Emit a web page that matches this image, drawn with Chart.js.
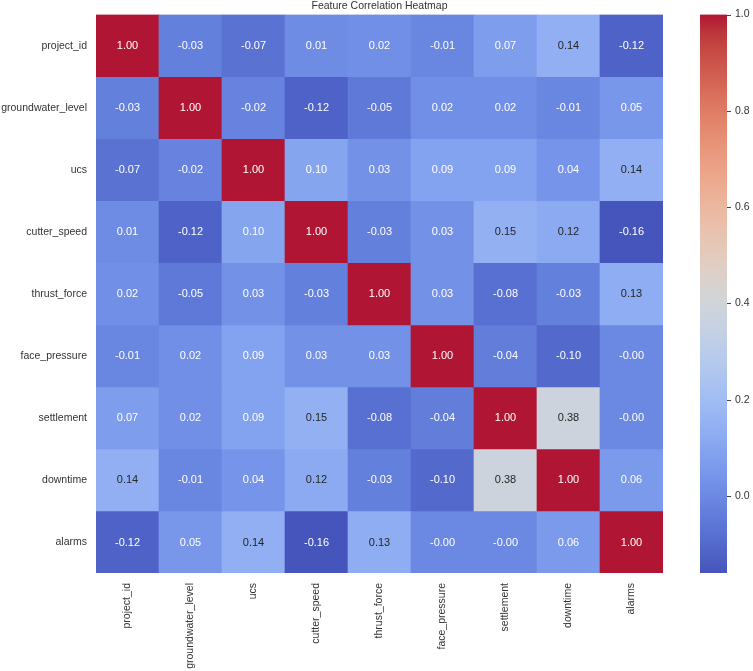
<!DOCTYPE html>
<html>
<head>
<meta charset="utf-8">
<title>Feature Correlation Heatmap</title>
<script src="https://cdn.jsdelivr.net/npm/chart.js@4"></script>
<style>
  html, body { margin: 0; padding: 0; background: #fff; }
  #wrap { width: 753px; height: 671px; position: relative; }
</style>
</head>
<body>
<div id="wrap"><canvas id="heatmap"></canvas></div>
<script>
// feature names (rows top->bottom, columns left->right)
var features = ['project_id', 'groundwater_level', 'ucs', 'cutter_speed', 'thrust_force',
                'face_pressure', 'settlement', 'downtime', 'alarms'];

// correlation matrix, one row per feature
var corrProjectId   = [1.00, -0.03, -0.07, 0.01, 0.02, -0.01, 0.07, 0.14, -0.12];
var corrGroundwater = [-0.03, 1.00, -0.02, -0.12, -0.05, 0.02, 0.02, -0.01, 0.05];
var corrUcs         = [-0.07, -0.02, 1.00, 0.10, 0.03, 0.09, 0.09, 0.04, 0.14];
var corrCutter      = [0.01, -0.12, 0.10, 1.00, -0.03, 0.03, 0.15, 0.12, -0.16];
var corrThrust      = [0.02, -0.05, 0.03, -0.03, 1.00, 0.03, -0.08, -0.03, 0.13];
var corrFace        = [-0.01, 0.02, 0.09, 0.03, 0.03, 1.00, -0.04, -0.10, -0.004];
var corrSettlement  = [0.07, 0.02, 0.09, 0.15, -0.08, -0.04, 1.00, 0.38, -0.004];
var corrDowntime    = [0.14, -0.01, 0.04, 0.12, -0.03, -0.10, 0.38, 1.00, 0.06];
var corrAlarms      = [-0.12, 0.05, 0.14, -0.16, 0.13, -0.004, -0.004, 0.06, 1.00];

var matrix = [corrProjectId, corrGroundwater, corrUcs, corrCutter, corrThrust,
              corrFace, corrSettlement, corrDowntime, corrAlarms];

// colour scale limits and colorbar ticks
var vmin = -0.16;
var vmax = 1.0;
var colorbarTicks = [0.0, 0.2, 0.4, 0.6, 0.8, 1.0];

// coolwarm (Moreland) control points
var coolwarm = [
  [59,76,192],[68,90,204],[77,104,215],[87,117,225],[98,130,234],[108,142,241],
  [119,154,247],[130,165,251],[141,176,254],[152,185,255],[163,194,255],[174,201,253],
  [184,208,249],[194,213,244],[204,217,238],[213,219,230],[221,221,221],[229,216,209],
  [236,211,197],[241,204,185],[245,196,173],[247,187,160],[247,177,148],[247,166,135],
  [244,154,123],[241,141,111],[236,127,99],[229,112,88],[222,96,77],[213,80,66],
  [203,62,56],[192,40,47],[180,4,38]
];

function cmapRGB(v) {
  var t = (v - vmin) / (vmax - vmin);
  t = Math.max(0, Math.min(1, t));
  var pos = t * (coolwarm.length - 1);
  var i = Math.min(Math.floor(pos), coolwarm.length - 2);
  var f = pos - i;
  var a = coolwarm[i], b = coolwarm[i + 1];
  return [0, 1, 2].map(function(k) { return a[k] + (b[k] - a[k]) * f; });
}
// the source picture is a bit washed out, so mute the colours slightly
function cmap(v) {
  var c = cmapRGB(v).map(function(x) { return Math.round(x * 0.88 + 150 * 0.12); });
  return 'rgb(' + c[0] + ',' + c[1] + ',' + c[2] + ')';
}
// seaborn-like text colour choice from luminance
function textColor(v) {
  var c = cmapRGB(v).map(function(x) {
    x = x / 255;
    return x <= 0.03928 ? x / 12.92 : Math.pow((x + 0.055) / 1.055, 2.4);
  });
  var lum = 0.2126 * c[0] + 0.7152 * c[1] + 0.0722 * c[2];
  return lum > 0.408 ? '#262626' : '#ffffff';
}

var FONT = "'Liberation Sans', Arial, sans-serif";
var LABEL_COLOR = '#333333';

var datasets = matrix.map(function(row, r) {
  return {
    label: features[r],
    data: row.map(function() { return 1; }),
    values: row,
    backgroundColor: row.map(cmap),
    borderWidth: 0,
    barPercentage: 1.0,
    categoryPercentage: 1.0
  };
});

var annotatePlugin = {
  id: 'annotate',
  afterDatasetsDraw: function(chart) {
    var ctx = chart.ctx;
    ctx.save();
    ctx.font = '11px ' + FONT;
    ctx.textAlign = 'center';
    ctx.textBaseline = 'middle';
    chart.data.datasets.forEach(function(ds, di) {
      var meta = chart.getDatasetMeta(di);
      meta.data.forEach(function(el, i) {
        var v = ds.values[i];
        ctx.fillStyle = textColor(v);
        ctx.fillText(v.toFixed(2), el.x, (el.y + el.base) / 2 + 0.5);
      });
    });
    ctx.restore();
  }
};

var colorbarPlugin = {
  id: 'colorbar',
  afterDraw: function(chart) {
    var s = chart.scales.cb;
    var ctx = chart.ctx;
    var x0 = s.left + 37, w = 27;
    var yTop = s.getPixelForValue(vmax), yBot = s.getPixelForValue(vmin);
    var grad = ctx.createLinearGradient(0, yBot, 0, yTop);
    for (var k = 0; k <= 64; k++) {
      var v = vmin + (vmax - vmin) * k / 64;
      grad.addColorStop(k / 64, cmap(v));
    }
    ctx.save();
    ctx.fillStyle = grad;
    ctx.fillRect(x0, yTop, w, yBot - yTop);
    ctx.strokeStyle = '#444';
    ctx.lineWidth = 1;
    colorbarTicks.forEach(function(t) {
      var y = Math.round(s.getPixelForValue(t)) + 0.5;
      ctx.beginPath();
      ctx.moveTo(x0 + w, y);
      ctx.lineTo(x0 + w + 4, y);
      ctx.stroke();
    });
    ctx.restore();
  }
};

var heatmapChart = new Chart(document.getElementById('heatmap'), {
  type: 'bar',
  data: {
    labels: features,
    datasets: datasets
  },
  options: {
    animation: false,
    responsive: true,
    maintainAspectRatio: false,
    layout: { padding: 0 },
    plugins: {
      legend: { display: false },
      tooltip: { enabled: false },
      title: {
        display: true,
        fullSize: false,
        text: 'Feature Correlation Heatmap',
        color: LABEL_COLOR,
        font: { family: FONT, size: 10.5, weight: 'normal' },
        padding: { top: 0, bottom: 2 }
      }
    },
    scales: {
      x: {
        type: 'category',
        stacked: true,
        grid: { display: false, drawTicks: false },
        border: { display: false },
        ticks: {
          autoSkip: false,
          maxRotation: 90,
          minRotation: 90,
          padding: 10,
          color: LABEL_COLOR,
          font: { family: FONT, size: 10.5 }
        },
        afterFit: function(axis) { axis.height = 98; }
      },
      y: {
        type: 'linear',
        stacked: true,
        reverse: true,
        min: 0,
        max: features.length,
        grid: { display: false, drawTicks: false },
        border: { display: false },
        afterBuildTicks: function(axis) {
          axis.ticks = features.map(function(_, i) { return { value: i + 0.5 }; });
        },
        ticks: {
          autoSkip: false,
          padding: 9,
          color: LABEL_COLOR,
          font: { family: FONT, size: 10.5 },
          callback: function(value) { return features[Math.floor(value)]; }
        },
        afterFit: function(axis) {
          axis.width = 96;
          axis.paddingTop = 0;
          axis.paddingBottom = 0;
        }
      },
      cb: {
        type: 'linear',
        position: 'right',
        min: vmin,
        max: vmax,
        grid: { display: false, drawTicks: false },
        border: { display: false },
        afterBuildTicks: function(axis) {
          axis.ticks = colorbarTicks.map(function(t) { return { value: t }; });
        },
        ticks: {
          autoSkip: false,
          padding: 72,
          color: LABEL_COLOR,
          font: { family: FONT, size: 10.5 },
          callback: function(value) { return value.toFixed(1); }
        },
        afterFit: function(axis) {
          axis.width = 90;
          axis.paddingTop = 0;
          axis.paddingBottom = 0;
        }
      }
    }
  },
  plugins: [annotatePlugin, colorbarPlugin]
});
</script>
</body>
</html>
